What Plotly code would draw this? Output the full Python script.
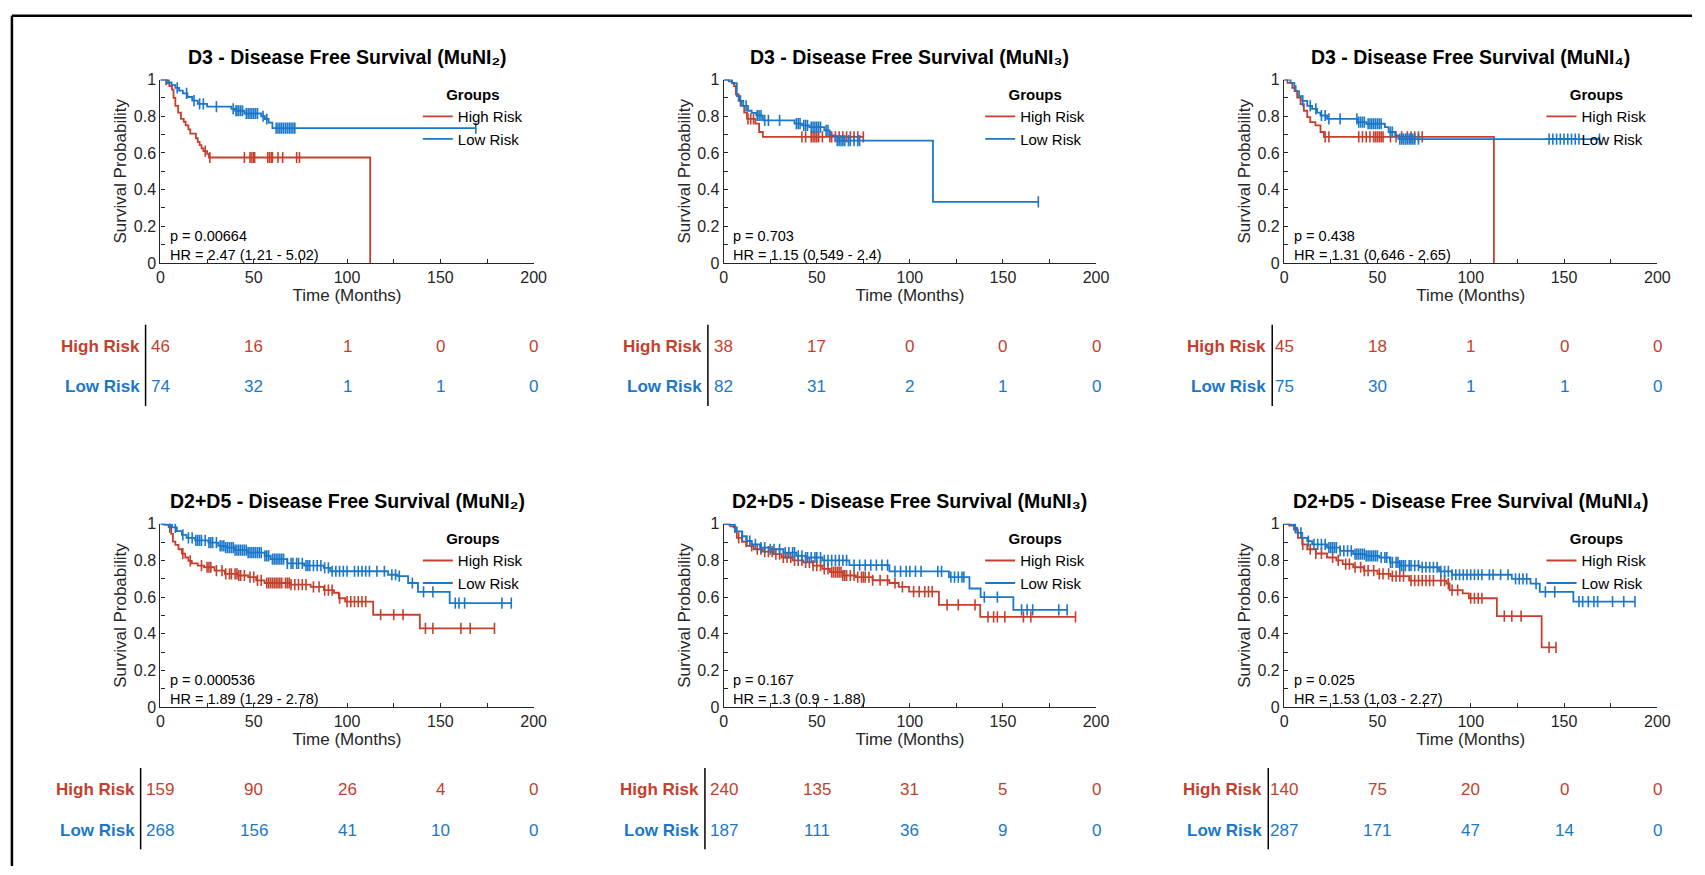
import plotly.graph_objects as go

W, H = 1705, 875
RED = "#C4402D"
BLUE = "#1A77C9"
AX = "#262626"
FONT = "Arial, Liberation Sans, Helvetica, sans-serif"

# ---------------- data ----------------
titles = [
    "D3 - Disease Free Survival (MuNI₂)",
    "D3 - Disease Free Survival (MuNI₃)",
    "D3 - Disease Free Survival (MuNI₄)",
    "D2+D5 - Disease Free Survival (MuNI₂)",
    "D2+D5 - Disease Free Survival (MuNI₃)",
    "D2+D5 - Disease Free Survival (MuNI₄)",
]
p_text = ["p = 0.00664", "p = 0.703", "p = 0.438", "p = 0.000536", "p = 0.167", "p = 0.025"]
hr_text = ["HR = 2.47 (1.21 - 5.02)", "HR = 1.15 (0.549 - 2.4)", "HR = 1.31 (0.646 - 2.65)",
           "HR = 1.89 (1.29 - 2.78)", "HR = 1.3 (0.9 - 1.88)", "HR = 1.53 (1.03 - 2.27)"]
risk_times = [0, 50, 100, 150, 200]
risk_high = [[46, 16, 1, 0, 0], [38, 17, 0, 0, 0], [45, 18, 1, 0, 0],
             [159, 90, 26, 4, 0], [240, 135, 31, 5, 0], [140, 75, 20, 0, 0]]
risk_low = [[74, 32, 1, 1, 0], [82, 31, 2, 1, 0], [75, 30, 1, 1, 0],
            [268, 156, 41, 10, 0], [187, 111, 36, 9, 0], [287, 171, 47, 14, 0]]

# Panel 1
p1_high_t = [3.5, 4.8, 6.2, 7, 8, 9.5, 11, 12.5, 13.5, 15, 16, 19, 20, 21, 22, 23, 25, 26, 112.4]
p1_high_s = [0.98, 0.965, 0.945, 0.9, 0.857, 0.82, 0.786, 0.77, 0.75, 0.728, 0.705, 0.68, 0.66, 0.643, 0.625, 0.61, 0.595, 0.575, 0.0]
p1_high_c = [24, 26.5, 45, 48, 49, 50, 50.5, 57.5, 58.5, 59.5, 60, 63, 65.5, 73, 74.5]
p1_high_end = 112.4
p1_low_t = [4.5, 6, 8, 10, 12, 14.5, 17, 20, 25, 38, 40, 45, 54, 56, 58, 60]
p1_low_s = [0.985, 0.97, 0.955, 0.94, 0.925, 0.905, 0.885, 0.868, 0.852, 0.84, 0.83, 0.815, 0.8, 0.785, 0.765, 0.735]
p1_low_c = [3, 9, 14, 18, 21, 23, 30, 39, 40.5, 41, 42, 43, 44, 46, 47, 48, 49, 50, 51, 52, 55, 57,
            62, 63, 64, 65, 66, 67, 68, 69, 70, 71, 72, 169]
p1_low_end = 169

# Panel 2
p2_high_t = [4.4, 5.5, 6.5, 8, 9.5, 11, 12.5, 17, 19, 21]
p2_high_s = [0.982, 0.964, 0.92, 0.884, 0.857, 0.82, 0.786, 0.76, 0.714, 0.688]
p2_high_c = [13, 14.5, 16, 42, 44, 47, 48, 49, 50, 51, 53, 57, 58, 60, 62, 64, 66, 68, 70, 72, 75]
p2_high_end = 75
p2_low_t = [2.7, 4.5, 7, 8.5, 10.5, 13, 15, 17.5, 21, 38, 42, 46, 54, 57, 60, 112.4]
p2_low_s = [0.99, 0.98, 0.91, 0.884, 0.857, 0.83, 0.818, 0.804, 0.777, 0.76, 0.75, 0.741, 0.723, 0.696, 0.667, 0.333]
p2_low_c = [9, 12, 18, 19, 20, 22, 24, 30, 39, 40, 41, 43, 44, 45, 47, 48, 49, 50, 51, 52, 55, 56,
            61, 62, 63, 64, 65, 67, 68, 70, 72, 73, 169]
p2_low_end = 169

# Panel 3
p3_high_t = [1.8, 4.4, 5.6, 7, 8.8, 10.6, 12.4, 14, 16.8, 19.5, 21.3, 112.4]
p3_high_s = [0.982, 0.955, 0.937, 0.902, 0.866, 0.83, 0.795, 0.768, 0.75, 0.714, 0.688, 0.0]
p3_high_c = [22, 24, 40, 42, 44, 46, 48, 49, 50, 51, 52, 53, 57, 60, 63, 66, 68, 70, 72, 74]
p3_high_end = 112.4
p3_low_t = [3.5, 5.5, 6.2, 8, 9.7, 12.4, 15, 17.7, 19.5, 23, 39.5, 44, 54, 56, 59.5, 61.3]
p3_low_s = [0.982, 0.964, 0.937, 0.91, 0.884, 0.857, 0.84, 0.82, 0.804, 0.786, 0.768, 0.759, 0.741, 0.714, 0.696, 0.675]
p3_low_c = [10, 14, 17, 20, 22, 24, 30, 39, 40, 41, 42, 43, 45, 46, 47, 48, 49, 50, 51, 52, 57, 58,
            62, 63, 64, 65, 66, 67, 68, 69, 70, 72, 142, 144, 146, 148, 150, 152, 154, 156, 158, 169]
p3_low_end = 169

# Panel 4
p4_high_t = [1.8, 4.4, 5.8, 6.7, 8, 9.7, 11.5, 13.3, 15, 16.8, 20, 23.4, 29, 34.5, 41.6, 47, 51.3,
             55.8, 70, 80.5, 87.6, 93, 95.6, 99, 114, 139]
p4_high_s = [0.995, 0.982, 0.945, 0.903, 0.885, 0.861, 0.837, 0.816, 0.798, 0.784, 0.772, 0.763,
             0.745, 0.727, 0.718, 0.709, 0.691, 0.677, 0.668, 0.656, 0.638, 0.624, 0.594, 0.576, 0.504, 0.43]
p4_high_c = [5, 12, 16, 22, 25, 26, 27, 30, 33, 35, 37, 38, 40, 41, 42, 43, 45, 48, 50, 52, 54, 57,
             58, 59, 60, 61, 62, 63, 64, 65, 67, 68, 69, 70, 72, 74, 76, 78, 82, 85, 88, 90, 92, 96,
             100, 102, 104, 106, 108, 110, 118, 125, 130, 142, 146, 161, 166, 179]
p4_high_end = 179
p4_low_t = [2.7, 6.2, 8.8, 11.5, 14, 18.6, 25.7, 31, 35, 40, 47, 55.8, 59, 68, 77, 87.6, 91, 122,
            127, 132.7, 138, 155]
p4_low_s = [0.995, 0.98, 0.96, 0.94, 0.923, 0.909, 0.897, 0.88, 0.87, 0.856, 0.843, 0.825, 0.807,
            0.784, 0.772, 0.759, 0.741, 0.722, 0.715, 0.677, 0.629, 0.567]
p4_low_c = [5, 8, 12, 15, 17, 19, 20, 21, 22, 24, 26, 27, 28, 30, 32, 33, 34, 35, 36, 37, 38, 39,
            40, 41, 42, 43, 44, 45, 46, 47, 48, 49, 50, 51, 52, 53, 54, 56, 57, 58, 60, 61, 62, 63,
            64, 65, 66, 68, 70, 71, 73, 74, 76, 78, 79, 80, 82, 84, 86, 88, 90, 92, 94, 96, 98, 100,
            104, 106, 108, 110, 112, 116, 120, 124, 126, 128, 135, 141, 146, 158, 160, 163, 183, 188]
p4_low_end = 188

# Panel 5
p5_high_t = [3.5, 6.2, 7, 9.8, 12.4, 16, 21, 26.7, 31, 37, 42.7, 48, 53, 57, 64, 71, 80, 89, 94,
             99.6, 115.6, 137.8]
p5_high_s = [0.986, 0.959, 0.923, 0.902, 0.879, 0.861, 0.848, 0.834, 0.816, 0.8, 0.79, 0.772,
             0.754, 0.736, 0.718, 0.709, 0.692, 0.677, 0.656, 0.63, 0.558, 0.492]
p5_high_c = [8, 12, 15, 18, 20, 22, 24, 26, 28, 30, 32, 34, 36, 38, 40, 42, 44, 46, 48, 50, 52, 54,
             56, 58, 59, 60, 61, 62, 63, 64, 65, 66, 68, 70, 72, 74, 75, 76, 78, 80, 84, 88, 92, 96,
             102, 105, 108, 110, 112, 120, 126, 135, 142, 145, 147, 151, 161, 165, 189]
p5_high_end = 189
p5_low_t = [2.7, 5.3, 7, 9.8, 12.4, 15, 19.5, 25, 32, 39, 44, 53, 67.5, 89, 121, 132, 138, 155.6]
p5_low_s = [0.995, 0.98, 0.959, 0.932, 0.906, 0.888, 0.87, 0.861, 0.843, 0.825, 0.816, 0.8,
            0.775, 0.74, 0.709, 0.647, 0.6, 0.531]
p5_low_c = [6, 10, 14, 17, 20, 22, 25, 27, 30, 33, 35, 37, 38, 40, 42, 44, 45, 47, 49, 50, 52, 54,
            56, 58, 60, 62, 64, 66, 70, 73, 76, 79, 82, 85, 88, 92, 95, 98, 100, 103, 106, 115, 117,
            122, 124, 126, 128, 129, 140, 147, 160, 163, 166, 180, 184.5]
p5_low_end = 184.5

# Panel 6
p6_high_t = [2.7, 5.3, 7.4, 9.7, 12.4, 17, 23, 28, 31.4, 37, 42.6, 50, 57, 67, 87, 88.7, 95.7, 99,
             114, 138]
p6_high_s = [0.99, 0.968, 0.923, 0.888, 0.861, 0.838, 0.816, 0.8, 0.78, 0.763, 0.745, 0.727,
             0.715, 0.69, 0.674, 0.638, 0.62, 0.594, 0.496, 0.326]
p6_high_c = [10, 14, 17, 20, 26, 29, 33, 35, 38, 41, 43, 45, 48, 51, 53, 56, 58, 60, 62, 64, 68, 70,
             72, 74, 76, 78, 80, 84, 86, 88, 90, 93, 100, 102, 104, 106, 118, 122, 127, 142, 145.7]
p6_high_end = 145.7
p6_low_t = [3.5, 5.3, 7, 9.7, 12.4, 15, 23, 30, 37, 44, 51, 56.7, 62, 72.7, 83, 90, 122, 132, 137, 155]
p6_low_s = [0.995, 0.977, 0.95, 0.923, 0.905, 0.888, 0.87, 0.852, 0.834, 0.825, 0.816, 0.79,
            0.772, 0.763, 0.74, 0.722, 0.7, 0.674, 0.629, 0.576]
p6_low_c = [6, 9, 13, 16, 18, 20, 22, 24, 25, 26, 27, 28, 30, 32, 34, 36, 38, 39, 40, 41, 42, 43,
            44, 45, 46, 47, 48, 49, 50, 52, 54, 55, 57, 58, 60, 61, 62, 63, 64, 65, 67, 68, 70, 72,
            74, 76, 78, 80, 82, 84, 86, 88, 90, 92, 94, 96, 98, 100, 102, 104, 106, 110, 112, 116,
            120, 124, 126, 128, 130, 135, 140, 145, 158, 160, 163, 166, 168, 176, 182, 188]
p6_low_end = 188

panels = [
    ((p1_high_t, p1_high_s, p1_high_c, p1_high_end), (p1_low_t, p1_low_s, p1_low_c, p1_low_end)),
    ((p2_high_t, p2_high_s, p2_high_c, p2_high_end), (p2_low_t, p2_low_s, p2_low_c, p2_low_end)),
    ((p3_high_t, p3_high_s, p3_high_c, p3_high_end), (p3_low_t, p3_low_s, p3_low_c, p3_low_end)),
    ((p4_high_t, p4_high_s, p4_high_c, p4_high_end), (p4_low_t, p4_low_s, p4_low_c, p4_low_end)),
    ((p5_high_t, p5_high_s, p5_high_c, p5_high_end), (p5_low_t, p5_low_s, p5_low_c, p5_low_end)),
    ((p6_high_t, p6_high_s, p6_high_c, p6_high_end), (p6_low_t, p6_low_s, p6_low_c, p6_low_end)),
]
group_names = ["High Risk", "Low Risk"]
group_colors = [RED, BLUE]

# ---------------- layout geometry (pixels) ----------------
col_x = [(158, 535), (727, 1103), (1293, 1670)]
row_y = [(73, 260), (526, 713)]
table_line_x = [[143, 711, 1281], [138, 708, 1277]]
table_rows_y = [(345, 386), (797, 839)]
table_line_y = [(323, 406), (775, 858)]


def px(x):
    return x / W


def py(y):
    return 1 - y / H


def km_path(t, s, end):
    xs = [0] + list(t) + [end]
    ys = [1] + list(s) + [s[-1]]
    return xs, ys


def surv_at(t, s, c):
    v = 1.0
    for ti, si in zip(t, s):
        if ti <= c:
            v = si
    return v


fig = go.Figure()
layout = dict(
    width=W, height=H, margin=dict(l=0, r=0, t=0, b=0), autosize=False,
    paper_bgcolor="white", plot_bgcolor="white",
    font=dict(family=FONT, size=16, color=AX),
    showlegend=True,
)
annotations = []
shapes = []

for i, (grp_hi, grp_lo) in enumerate(panels):
    r, c = divmod(i, 3)
    k = i + 1
    xa = "x" if k == 1 else f"x{k}"
    ya = "y" if k == 1 else f"y{k}"
    lg = "legend" if k == 1 else f"legend{k}"
    x0, x1 = col_x[c]
    y0, y1 = row_y[r]
    for g, (t, s, cens, end) in enumerate((grp_hi, grp_lo)):
        xs, ys = km_path(t, s, end)
        fig.add_trace(go.Scatter(
            x=xs, y=ys, mode="lines", line=dict(color=group_colors[g], width=1.8, shape="hv"),
            name=group_names[g], xaxis=xa, yaxis=ya, legend=lg, hoverinfo="skip"))
        fig.add_trace(go.Scatter(
            x=cens, y=[surv_at(t, s, cc) for cc in cens], mode="markers",
            marker=dict(symbol="line-ns", size=8, line=dict(color=group_colors[g], width=1.6)),
            xaxis=xa, yaxis=ya, showlegend=False, hoverinfo="skip"))
    axkey = "xaxis" if k == 1 else f"xaxis{k}"
    aykey = "yaxis" if k == 1 else f"yaxis{k}"
    layout[axkey] = dict(
        domain=[px(x0), px(x1)], anchor=ya, range=[0, 200], tickvals=[0, 50, 100, 150, 200],
        ticks="inside", ticklen=4, tickcolor=AX, showline=True, linecolor=AX, linewidth=1.3,
        showgrid=False, zeroline=False, tickfont=dict(size=16, color=AX),
        minor=dict(tickvals=[25, 75, 125, 175], ticks="inside", ticklen=4, tickcolor=AX),
        title=dict(text="Time (Months)", font=dict(size=17, color=AX), standoff=2),
    )
    layout[aykey] = dict(
        domain=[py(y1), py(y0)], anchor=xa, range=[0, 1], tickvals=[0, 0.2, 0.4, 0.6, 0.8, 1],
        ticktext=["0", "0.2", "0.4", "0.6", "0.8", "1"],
        ticks="inside", ticklen=4, tickcolor=AX, showline=True, linecolor=AX, linewidth=1.3,
        showgrid=False, zeroline=False, tickfont=dict(size=16, color=AX),
        minor=dict(tickvals=[0.1, 0.3, 0.5, 0.7, 0.9], ticks="inside", ticklen=4, tickcolor=AX),
        title=dict(text="Survival Probability", font=dict(size=17, color=AX), standoff=2),
    )
    layout[lg] = dict(
        x=px(x1 - 117), y=py(y0 + 1), xanchor="left", yanchor="top",
        bgcolor="rgba(0,0,0,0)", borderwidth=0, tracegroupgap=0,
        font=dict(size=15, color="black"), itemwidth=30,
        title=dict(text="<b>Groups</b>", side="top center", font=dict(size=15, color="black")),
    )
    # title
    annotations.append(dict(
        text=f"<b>{titles[i]}</b>", xref="paper", yref="paper",
        x=px((x0 + x1) / 2), y=py(y0 - 23), xanchor="center", yanchor="middle",
        showarrow=False, font=dict(size=19.5, color="black")))
    # stats
    annotations.append(dict(text=p_text[i], xref=xa, yref=ya, x=4, y=0.146, xanchor="left",
                            yanchor="middle", showarrow=False, font=dict(size=14.5, color="black")))
    annotations.append(dict(text=hr_text[i], xref=xa, yref=ya, x=4, y=0.044, xanchor="left",
                            yanchor="middle", showarrow=False, font=dict(size=14.5, color="black")))
    # risk table
    lx = table_line_x[r][c]
    for g, vals in enumerate((risk_high[i], risk_low[i])):
        yy = table_rows_y[r][g]
        annotations.append(dict(
            text=f"<b>{group_names[g]}</b>", xref="paper", yref="paper", x=px(lx - 4), y=py(yy),
            xanchor="right", yanchor="middle", showarrow=False,
            font=dict(size=17, color=group_colors[g])))
        for tv, v in zip(risk_times, vals):
            annotations.append(dict(
                text=str(v), xref=xa, yref="paper", x=tv, y=py(yy), xanchor="center",
                yanchor="middle", showarrow=False, font=dict(size=17, color=group_colors[g])))
    ly0, ly1 = table_line_y[r]
    shapes.append(dict(type="line", xref="paper", yref="paper", x0=px(lx), x1=px(lx),
                       y0=py(ly0), y1=py(ly1), line=dict(color="black", width=1.5)))

# outer frame (left and top edges)
shapes.append(dict(type="line", xref="paper", yref="paper", x0=px(8), x1=px(8), y0=py(8), y1=0,
                   line=dict(color="black", width=2.5)))
shapes.append(dict(type="line", xref="paper", yref="paper", x0=px(8), x1=1, y0=py(8), y1=py(8),
                   line=dict(color="black", width=2.5)))

layout["annotations"] = annotations
layout["shapes"] = shapes
fig.update_layout(**layout)
fig.write_html("out.html")
